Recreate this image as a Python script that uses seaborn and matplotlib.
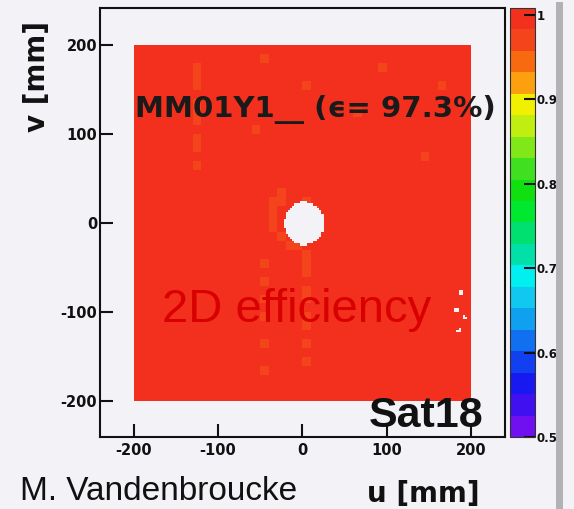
import numpy as np
import pandas as pd
import seaborn as sns
import matplotlib.pyplot as plt
from matplotlib.colors import ListedColormap
from matplotlib.lines import Line2D

# efficiency map, 10 mm cells, first row = v 200..190 mm
# r = ~99 % (red band), o = ~97 % (orange-red band)
eff_rows = [
    "rrrrrrrrrr rrrrrrrrrr rrrrrrrrrr rrrrrrrrrr",
    "rrrrrrrrrr rrrrrorrrr rrrrrrrrrr rrrrrrrrrr",
    "rrrrrrrorr rrrrrrrrrr rrrrrrrrro rrrrrrrrrr",
    "rrrrrrrorr rrrrrrrrrr rrrrrrrrrr rrrrrrrrrr",
    "rrrrrrrorr rrrrrrrrrr orrrrrrrrr rrrrrrorrr",
    "rrrrrrrrrr rrrrrrrrrr rrrrrrrrrr rrrrrrrrrr",
    "rrrrrrrorr rrrrrrrrrr rrrrrrrrrr rrrrrrrrrr",
    "rrrrrrrorr rrrrrrrrrr rrrrrrorrr rrrrrrrrrr",
    "rrrrrrrorr rrrrrrrrrr rrrrrrrrrr rrrrrrrrrr",
    "rrrrrrrrrr rrrrorrrrr rrrrrrrrrr rrrrrrrrrr",
    "rrrrrrrorr rrrrrrrrrr rrrrrrrrrr rrrrrrrrrr",
    "rrrrrrrorr rrrrrrrrrr rrrrrrrrrr rrrrrrrrrr",
    "rrrrrrrrrr rrrrrrrrrr rrrrrrrrrr rrrrorrrrr",
    "rrrrrrrorr rrrrrrrrrr rrrrrrrrrr rrrrrrrrrr",
    "rrrrrrrrrr rrrrrrrrrr rrrrrrrrrr rrrrrrrrrr",
    "rrrrrrrrrr rrrrrrrrrr rrrrrrrrrr rrrrrrrrrr",
    "rrrrrrrrrr rrrrrrrorr rrrrrrrrrr rrrrrrrrrr",
    "rrrrrrrrrr rrrrrroorr orrrrrrrrr rrrrrrrrrr",
    "rrrrrrrrrr rrrrrrorrr rorrrrrrrr rrrrrrrrrr",
    "rrrrrrrrrr rrrrrrorrr rorrrrrrrr rrrrrrrrrr",
    "rrrrrrrrrr rrrrrrorrr rrrrrrrrrr rrrrrrrrrr",
    "rrrrrrrrrr rrrrrrrorr rrrrrrrrrr rrrrrrrrrr",
    "rrrrrrrrrr rrrrrrrroo rrrrrrrrrr rrrrrrrrrr",
    "rrrrrrrrrr rrrrrrrrrr orrrrrrrrr rrrrrrrrrr",
    "rrrrrrrrrr rrrrrorrrr orrrrrrrrr rrrrrrrrrr",
    "rrrrrrrrrr rrrrrrrrrr orrrrrrrrr rrrrrrrrrr",
    "rrrrrrrrrr rrrrrorrrr rrrrrrrrrr rrrrrrrrrr",
    "rrrrrrrrrr rrrrrrrrrr orrrrrrrrr rrrrrrrrrr",
    "rrrrrrrrrr rrrrrorrrr orrrrrrrrr rrrrrrrrrr",
    "rrrrrrrrrr rrrrrrrrrr rrrrrrrrrr rrrrrrrrrr",
    "rrrrrrrrrr rrrrrorrrr orrrrrrrrr rrrrrrrrrr",
    "rrrrrrrrrr rrrrrrrrrr orrrrrrrrr rrrrrrrrrr",
    "rrrrrrrrrr rrrrrrrrrr rrrrrrrrrr rrrrrrrrrr",
    "rrrrrrrrrr rrrrrorrrr orrrrrrrrr rrrrrrrrrr",
    "rrrrrrrrrr rrrrrrrrrr rrrrrrrrrr rrrrrrrrrr",
    "rrrrrrrrrr rrrrrrrrrr orrrrrrrrr rrrrrrrrrr",
    "rrrrrrrrrr rrrrrorrrr rrrrrrrrrr rrrrrrrrrr",
    "rrrrrrrrrr rrrrrrrrrr rrrrrrrrrr rrrrrrrrrr",
    "rrrrrrrrrr rrrrrrrrrr rrrrrrrrrr rrrrrrrrrr",
    "rrrrrrrrrr rrrrrrrrrr rrrrrrrrrr rrrrrrrrrr",
]
eff_levels = {"r": 0.99, "o": 0.972}
cell_mm = 10
sub = 4  # drawn in 2.5 mm bins

# beam hole in the middle and a few dead spots at the right edge (no entries)
hole_center = (2.0, 0.0)
hole_radius = 24.0
dead_spots = [(187, -78), (183, -98), (192, -106), (186, -121)]
dead_radius = 2.6

# ROOT-like palette, bottom (0.5) -> top (1.0)
palette = ["#7010f0", "#4010f0", "#1818f0", "#1040f0", "#1070f0",
           "#10a0f0", "#10c8f0", "#00f0f0", "#00e0a8", "#00e070",
           "#00e830", "#10e010", "#40e020", "#80e818", "#c0ee10",
           "#f0f000", "#fca010", "#f86a10", "#f4441c", "#f3301e"]
z_min, z_max = 0.5, 1.008

u_ticks = [-200, -100, 0, 100, 200]
v_ticks = [-200, -100, 0, 100, 200]
z_ticks = [0.5, 0.6, 0.7, 0.8, 0.9, 1.0]
z_labels = ["0.5", "0.6", "0.7", "0.8", "0.9", "1"]

chamber = "MM01Y1__"
mean_eff = 97.3
run_tag = "Sat18"
author = "M. Vandenbroucke"

# build the table of bins
half = cell_mm / sub
recs = []
for r, line in enumerate(eff_rows):
    line = line.replace(" ", "")
    assert len(line) == 40
    for c, ch in enumerate(line):
        for i in range(sub):
            for j in range(sub):
                u = -200 + c * cell_mm + (i + 0.5) * half
                v = 200 - r * cell_mm - (j + 0.5) * half
                if np.hypot(u - hole_center[0], v - hole_center[1]) < hole_radius:
                    continue
                if any(np.hypot(u - du, v - dv) < dead_radius for du, dv in dead_spots):
                    continue
                recs.append((u, v, eff_levels[ch]))
df = pd.DataFrame(recs, columns=["u", "v", "eff"])
edges = list(np.arange(-200, 200.1, half))

bg = "#f3f2f6"
plt.rcParams['font.family'] = ['Liberation Sans', 'DejaVu Sans']
plt.rcParams['axes.linewidth'] = 1.5
plt.rcParams['axes.unicode_minus'] = False

fig = plt.figure(figsize=(5.74, 5.09), dpi=100, facecolor=bg)
ax = fig.add_axes([0.1742, 0.1415, 0.7056, 0.8428], facecolor=bg)
cax = fig.add_axes([0.8885, 0.1415, 0.0436, 0.8428])

cmap = ListedColormap(palette)
sns.histplot(data=df, x="u", y="v", weights="eff", bins=(edges, edges),
             cmap=cmap, vmin=z_min, vmax=z_max, cbar=True, cbar_ax=cax, ax=ax)

ax.set_xlim(-240, 240)
ax.set_ylim(-240, 242)
ax.set_xticks(u_ticks)
ax.set_yticks(v_ticks)
ax.set_xlabel("")
ax.set_ylabel("")
ax.tick_params(direction="in", length=9.5, width=1.5, colors="#111111")
ax.tick_params(axis="x", pad=4)
ax.tick_params(axis="y", pad=2)
for lab in ax.get_xticklabels() + ax.get_yticklabels():
    lab.set_fontfamily("DejaVu Sans")
    lab.set_fontweight("bold")
    lab.set_fontsize(10.5)
for sp in ax.spines.values():
    sp.set_visible(True)
    sp.set_color("#111111")

cb = ax.collections[0].colorbar
cb.set_ticks(z_ticks, labels=z_labels)
cb.outline.set_linewidth(0.8)
cb.outline.set_edgecolor("#333333")
cax.tick_params(axis="y", direction="in", length=8, width=1.5, pad=1, colors="#111111")
for lab in cax.get_yticklabels():
    lab.set_fontfamily("DejaVu Sans")
    lab.set_fontweight("bold")
    lab.set_fontsize(8.5)

# texts
fig.text(0.2352, 0.7701, f"{chamber} (\u03f5= {mean_eff}%)", fontsize=21,
         fontweight="bold", color="#1a1a1a", family=["DejaVu Sans"], va="baseline")
fig.text(0.2822, 0.3674, "2D efficiency", fontsize=34, color="#d80000", va="baseline")
fig.text(0.8415, 0.1611, run_tag, fontsize=31, fontweight="bold", color="#111111",
         ha="right", va="baseline")
fig.text(0.0348, 0.0177, author, fontsize=24, color="#111111", va="baseline")
fig.text(0.8362, 0.0138, "u [mm]", fontsize=20, fontweight="bold", color="#111111",
         family=["DejaVu Sans"], ha="right", va="baseline")
fig.text(0.0645, 0.8497, "v [mm]", fontsize=20, fontweight="bold", color="#111111",
         family=["DejaVu Sans"], rotation=90, ha="center", va="center")

# grey separator on the right of the screenshot
fig.add_artist(Line2D([0.973, 0.973], [0.0, 0.99], color="#b3b1b6", lw=5,
                      transform=fig.transFigure))

fig.savefig("out.png", dpi=100, facecolor=bg)
